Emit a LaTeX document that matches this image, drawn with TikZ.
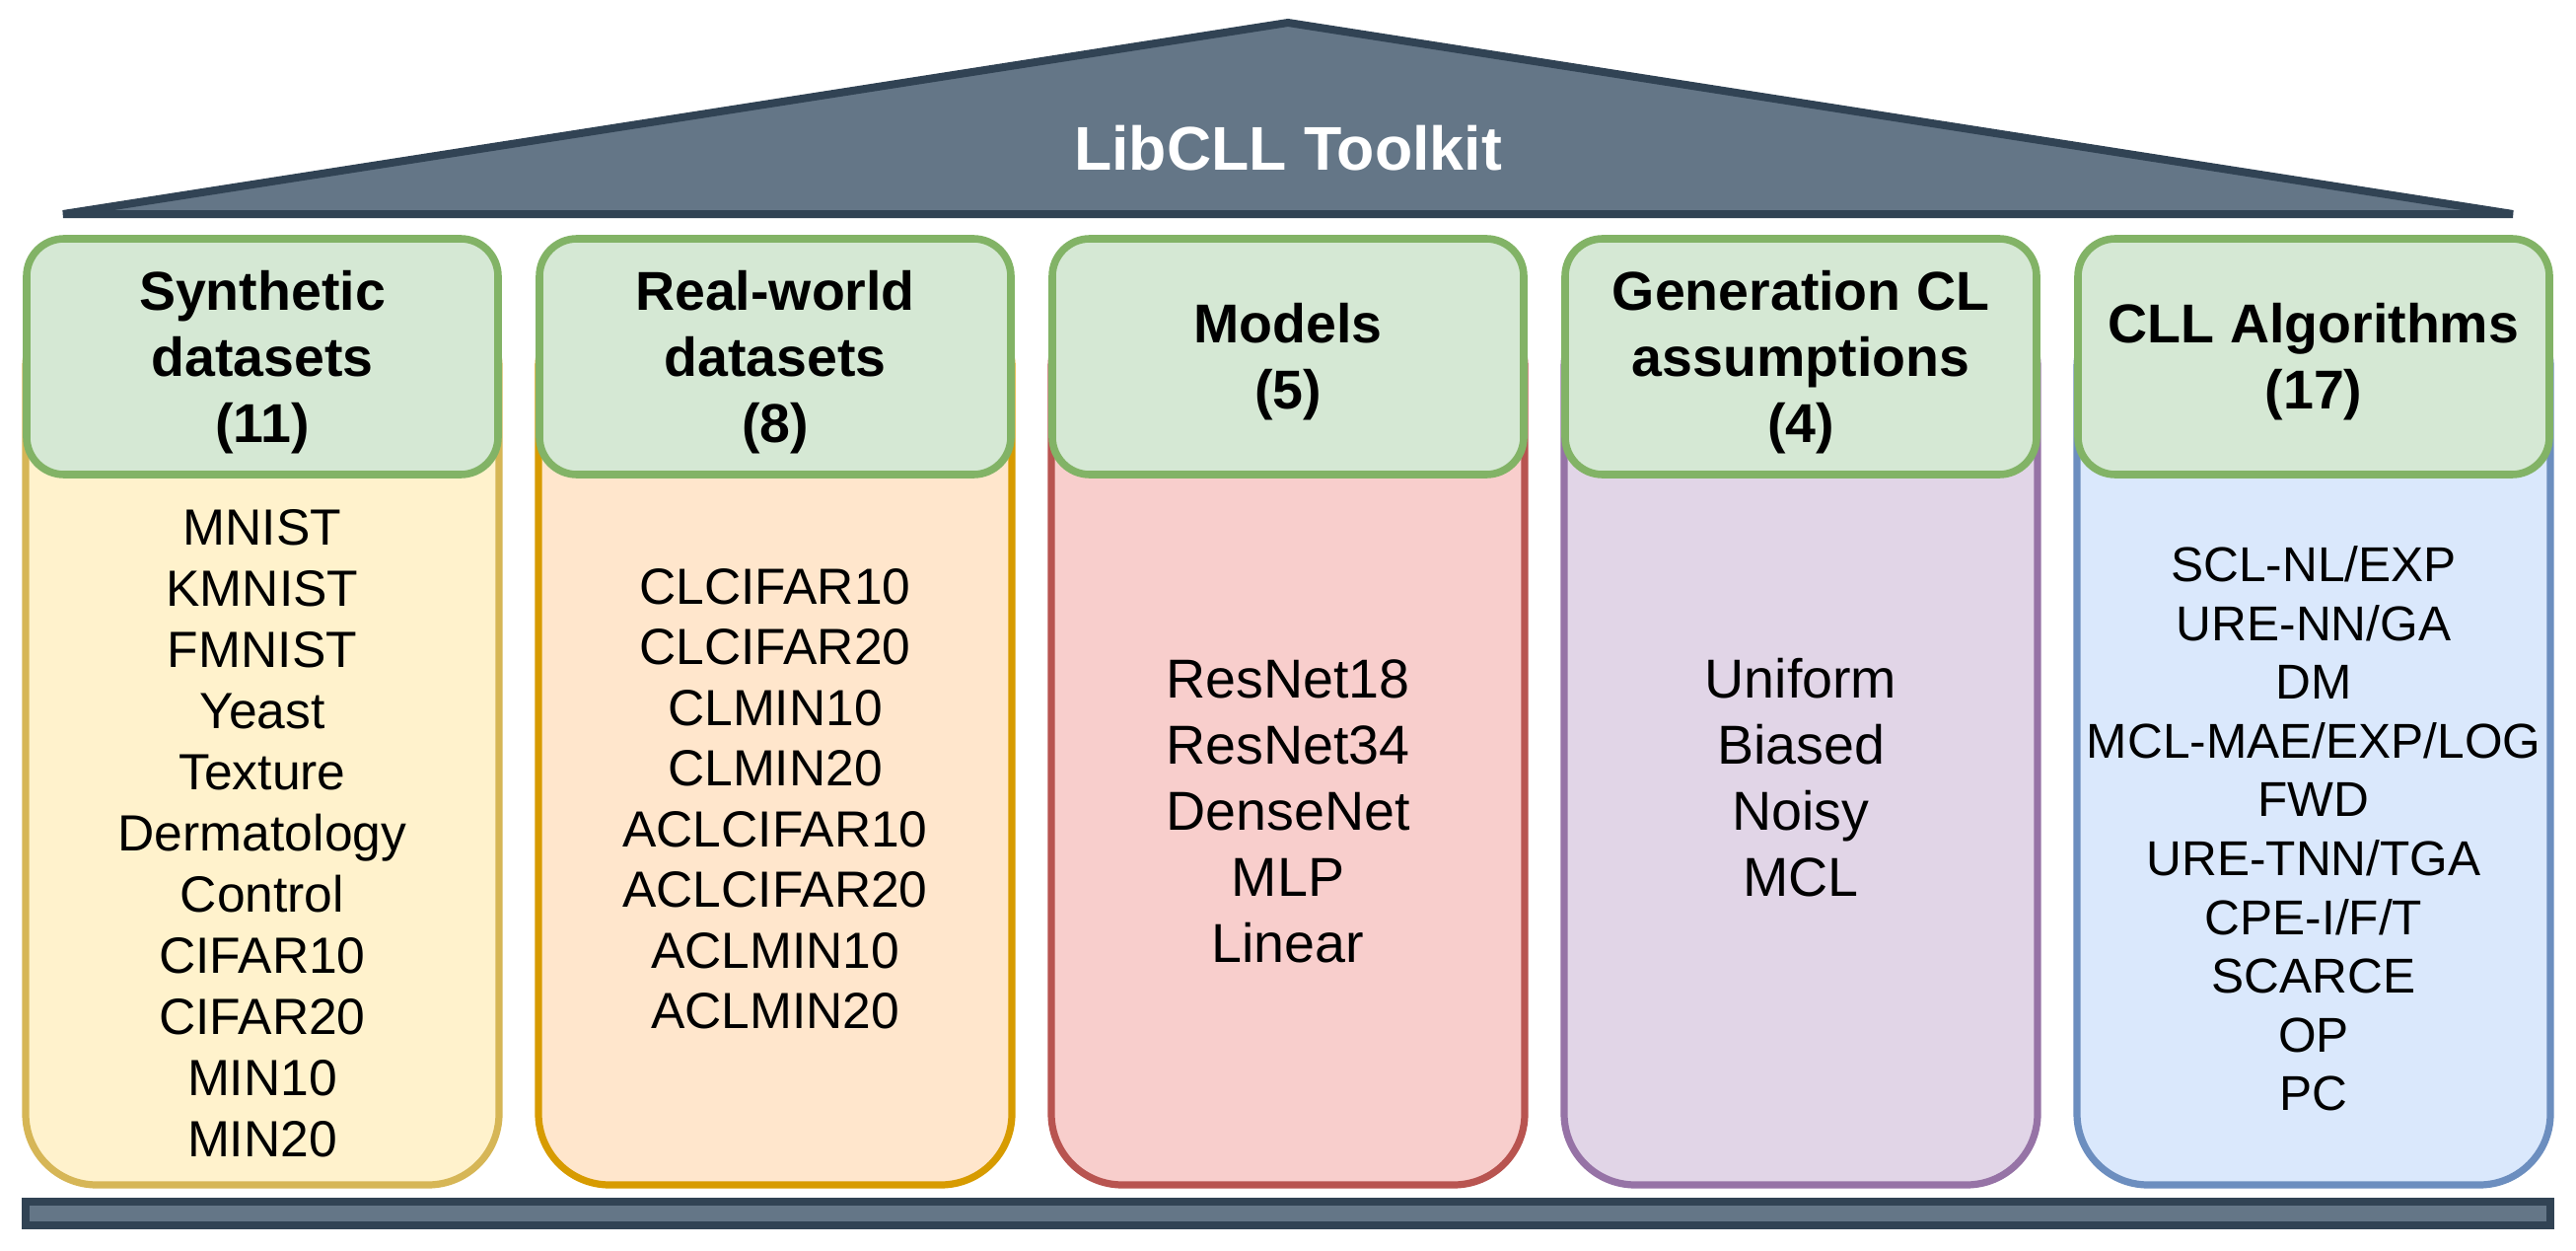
\documentclass[tikz,border=0pt]{standalone}
\usepackage{fontspec}
\setmainfont{Liberation Sans}
\definecolor{roofline}{HTML}{314354}
\definecolor{rooffill}{HTML}{647687}
\definecolor{hdrline}{HTML}{82B366}
\definecolor{hdrfill}{HTML}{D5E8D4}
\definecolor{yelfill}{HTML}{FFF2CC}
\definecolor{yelline}{HTML}{D6B656}
\definecolor{orafill}{HTML}{FFE6CC}
\definecolor{oraline}{HTML}{D79B00}
\definecolor{redfill}{HTML}{F8CECC}
\definecolor{redline}{HTML}{B85450}
\definecolor{purfill}{HTML}{E1D5E7}
\definecolor{purline}{HTML}{9673A6}
\definecolor{blufill}{HTML}{DAE8FC}
\definecolor{bluline}{HTML}{6C8EBF}
\begin{document}
\begin{tikzpicture}[x=0.5pt,y=-0.5pt,
  roofstyle/.style={draw=roofline,fill=rooffill,line width=4pt},
  hdrbox/.style={draw=hdrline,fill=hdrfill,line width=3.8pt,rounded corners=19pt,
    minimum width=239pt,minimum height=119.5pt,inner sep=0pt},
  bodybox/.style={line width=3.6pt,rounded corners=36pt,
    minimum width=240pt,minimum height=450.5pt,inner sep=0pt},
  hdrtext/.style={font=\fontsize{27.75}{33.5}\selectfont\bfseries,align=center,inner sep=0pt},
  listtext/.style={align=center,inner sep=0pt},
  titletext/.style={font=\fontsize{31.3}{37}\selectfont\bfseries,text=white,inner sep=0pt}
]
\useasboundingbox (0,0) rectangle (2612,1268);

% roof and base
\draw[roofstyle] (64,217) coordinate (roofL) -- (1306,23) coordinate (apex) -- (2548,217) coordinate (roofR) -- cycle;
\node[titletext,anchor=base] (title) at (1306,172) {LibCLL Toolkit};
\draw[roofstyle] (26,1218) rectangle (2586,1242);

% body boxes
\node[bodybox,draw=yelline,fill=yelfill] (b1) at (266,750.5) {};
\node[bodybox,draw=oraline,fill=orafill] (b2) at (786,750.5) {};
\node[bodybox,draw=redline,fill=redfill] (b3) at (1306,750.5) {};
\node[bodybox,draw=purline,fill=purfill] (b4) at (1826,750.5) {};
\node[bodybox,draw=bluline,fill=blufill] (b5) at (2346,750.5) {};

% header boxes
\node[hdrbox] (h1) at (266,361.5) {};
\node[hdrbox] (h2) at (786,361.5) {};
\node[hdrbox] (h3) at (1306,361.5) {};
\node[hdrbox] (h4) at (1826,361.5) {};
\node[hdrbox] (h5) at (2346,361.5) {};

\node[hdrtext] (t1) at (266,367) {Synthetic\\datasets\\(11)};
\node[hdrtext] (t2) at (786,367) {Real-world\\datasets\\(8)};
\node[hdrtext] (t3) at (1306,367) {Models\\(5)};
\node[hdrtext] (t4) at (1826,367) {Generation CL\\assumptions\\(4)};
\node[hdrtext] (t5) at (2346,367) {CLL Algorithms\\(17)};

% lists
\node[listtext,font=\fontsize{25.8}{31}\selectfont] (l1) at (266,845)
  {MNIST\\KMNIST\\FMNIST\\Yeast\\Texture\\Dermatology\\Control\\CIFAR10\\CIFAR20\\MIN10\\MIN20};
\node[listtext,font=\fontsize{25.75}{30.75}\selectfont] (l2) at (786,810)
  {CLCIFAR10\\CLCIFAR20\\CLMIN10\\CLMIN20\\ACLCIFAR10\\ACLCIFAR20\\ACLMIN10\\ACLMIN20};
\node[listtext,font=\fontsize{27.8}{33.5}\selectfont] (l3) at (1306,822)
  {ResNet18\\ResNet34\\DenseNet\\MLP\\Linear};
\node[listtext,font=\fontsize{27.8}{33.5}\selectfont] (l4) at (1826,788)
  {Uniform\\Biased\\Noisy\\MCL};
\node[listtext,font=\fontsize{24.8}{29.8}\selectfont] (l5) at (2346,840)
  {SCL-NL/EXP\\URE-NN/GA\\DM\\MCL-MAE/EXP/LOG\\FWD\\URE-TNN/TGA\\CPE-I/F/T\\SCARCE\\OP\\PC};
\end{tikzpicture}
\end{document}
